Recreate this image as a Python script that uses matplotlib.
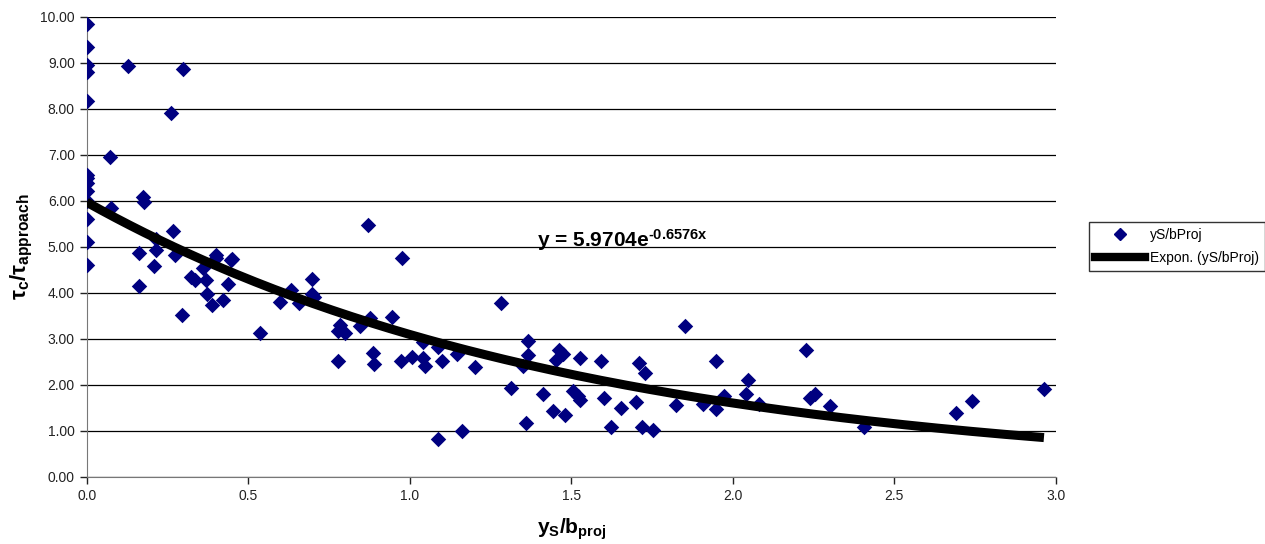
import numpy as np
import matplotlib.pyplot as plt
from matplotlib.lines import Line2D

plt.rcParams['font.family'] = ['Liberation Sans', 'DejaVu Sans']
plt.rcParams['mathtext.fontset'] = 'custom'
plt.rcParams['mathtext.rm'] = 'Liberation Sans:bold'
plt.rcParams['mathtext.it'] = 'Liberation Sans:bold'
plt.rcParams['mathtext.bf'] = 'Liberation Sans:bold'
plt.rcParams['mathtext.default'] = 'bf'

# measured points: yS/bProj vs tau_c/tau_approach
ys_b = [0.0, 0.0, 0.0, 0.0, 0.0, 0.0, 0.0, 0.0, 0.0, 0.0, 0.0, 0.0, 0.0,
        0.128, 0.298, 0.26, 0.071, 0.174, 0.176, 0.074, 0.267, 0.216, 0.40, 0.45,
        0.162, 0.216, 0.21, 0.272, 0.162, 0.324, 0.334, 0.36, 0.40, 0.368,
        0.448, 0.437, 0.372, 0.389, 0.422, 0.296, 0.536, 0.598, 0.634, 0.657,
        0.696, 0.696, 0.705,
        0.871, 0.977, 1.282, 0.783, 0.778, 0.80, 0.845, 0.876, 0.946, 0.778,
        0.886, 0.889, 0.974, 1.008, 1.041, 1.046, 1.041, 1.088, 1.101, 1.145,
        1.201, 1.086, 1.163, 1.313, 1.351, 1.366, 1.366, 1.359, 1.413, 1.442,
        1.48, 1.462, 1.475, 1.452, 1.526, 1.506, 1.526, 1.52, 1.593, 1.60,
        1.624, 1.655, 1.70, 1.71, 1.72, 1.727,
        1.753, 1.853, 1.824, 1.908, 1.947, 1.949, 1.972, 2.047, 2.042, 2.081,
        2.228, 2.238, 2.254, 2.302, 2.405, 2.69, 2.739, 2.963]
tau_ratio = [9.85, 9.35, 8.95, 8.80, 8.17, 6.57, 6.50, 6.39, 6.21, 5.99, 5.61, 5.11, 4.61,
             8.93, 8.86, 7.90, 6.96, 6.08, 5.98, 5.85, 5.34, 5.16, 4.83, 4.74,
             4.87, 4.94, 4.58, 4.83, 4.14, 4.34, 4.27, 4.54, 4.76, 4.27,
             4.71, 4.19, 3.97, 3.74, 3.85, 3.51, 3.12, 3.80, 4.07, 3.78,
             4.29, 3.97, 3.90,
             5.48, 4.76, 3.78, 3.30, 3.16, 3.12, 3.27, 3.45, 3.47, 2.51,
             2.70, 2.46, 2.52, 2.61, 2.58, 2.40, 2.94, 2.83, 2.51, 2.67,
             2.38, 0.81, 1.00, 1.93, 2.40, 2.96, 2.65, 1.16, 1.80, 1.42,
             1.34, 2.76, 2.67, 2.54, 2.58, 1.87, 1.67, 1.76, 2.51, 1.71,
             1.09, 1.49, 1.63, 2.47, 1.08, 2.25,
             1.02, 3.27, 1.56, 1.58, 2.51, 1.47, 1.76, 2.11, 1.80, 1.58,
             2.76, 1.71, 1.80, 1.54, 1.09, 1.38, 1.65, 1.91]

# Excel exponential trendline
fit_a = 5.9704
fit_b = -0.6576

fig = plt.figure(figsize=(12.65, 5.44), dpi=100)
ax = fig.add_axes([0.0685, 0.1237, 0.7662, 0.8453])

ax.scatter(ys_b, tau_ratio, marker='D', s=62, color='#000080', zorder=3, linewidths=0)
xs = np.linspace(0, max(ys_b), 200)
ax.plot(xs, fit_a * np.exp(fit_b * xs), color='black', lw=6.5, zorder=4,
        solid_capstyle='butt')

ax.text(1.394, 5.0, r'y = 5.9704e$^{\text{-0.6576x}}$', fontsize=15, fontweight='bold',
        va='baseline', zorder=5)

ax.set_xlim(0, 3.0)
ax.set_ylim(0, 10)
ax.set_xticks(np.arange(0, 3.01, 0.5))
ax.set_xticklabels(['%.1f' % v for v in np.arange(0, 3.01, 0.5)])
ax.set_yticks(np.arange(0, 10.01, 1))
ax.set_yticklabels(['%.2f' % v for v in np.arange(0, 10.01, 1)])
ax.tick_params(labelsize=10, colors='#222222', length=5, width=1)
ax.yaxis.grid(True, color='black', lw=0.9)
ax.set_axisbelow(True)
for side in ['top', 'right']:
    ax.spines[side].set_visible(False)
for side in ['left', 'bottom']:
    ax.spines[side].set_color('#777777')

ax.set_xlabel(r'y$_{\mathbf{S}}$/b$_{\mathbf{proj}}$', fontsize=15, fontweight='bold',
              labelpad=10)
ax.set_ylabel(r'$\tau_{c}/\tau_{approach}$', fontsize=16, labelpad=4)

handles = [Line2D([], [], marker='D', color='#000080', ls='none', markersize=6),
           Line2D([], [], color='black', lw=6)]
leg = fig.legend(handles, ['yS/bProj', 'Expon. (yS/bProj)'], loc='upper left',
                 bbox_to_anchor=(0.8605, 0.592), fontsize=10, frameon=True,
                 fancybox=False, edgecolor='black', handlelength=3.6,
                 borderpad=0.45, labelspacing=0.6, handletextpad=0.35,
                 borderaxespad=0)
leg.get_frame().set_linewidth(1.0)

fig.savefig('out.png', dpi=100)
